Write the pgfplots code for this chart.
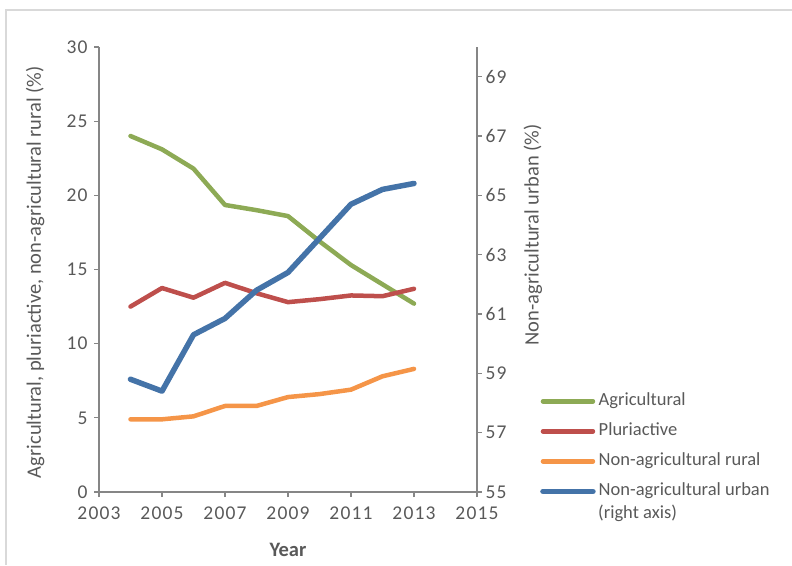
\documentclass[border=0pt]{standalone}
\usepackage{fontspec}
\setmainfont{Carlito}
\newfontfamily\tickfamily{Carlito}[LetterSpace=6]
\usepackage{pgfplots}
\pgfplotsset{compat=1.18}

\definecolor{cagri}{HTML}{8DAA55}
\definecolor{cpluri}{HTML}{BE4F4C}
\definecolor{crural}{HTML}{F59548}
\definecolor{curban}{HTML}{4473A8}
\definecolor{axisgrey}{HTML}{868686}
\definecolor{textgrey}{HTML}{595959}
\definecolor{framegrey}{HTML}{D9D9D9}

\newcommand{\tickfont}{\tickfamily\fontsize{19.5}{22}\selectfont}
\newcommand{\labelfont}{\fontsize{20.5}{23}\selectfont}
\newcommand{\legfont}{\fontsize{18.5}{21}\selectfont}

\begin{document}
\begin{tikzpicture}
\path[use as bounding box] (0,0) rectangle (792pt,565pt);
\draw[framegrey, line width=2pt] (792pt,555pt) -- (6pt,555pt) -- (6pt,0pt);

\pgfplotsset{
  commonstyle/.style={
    at={(99pt,73pt)}, anchor=south west,
    scale only axis, width=378pt, height=445pt,
    xmin=2003, xmax=2015,
    axis line style={axisgrey, line width=1.5pt, -},
    tick style={axisgrey, line width=1.2pt},
    major tick length=5pt, tick align=outside,
    tick label style={font=\tickfont, text=textgrey},
    label style={font=\labelfont, text=textgrey},
    /pgf/number format/assume math mode=true,
    /pgf/number format/1000 sep={},
    clip=false,
  },
  serie/.style={line width=4.5pt, line join=round, line cap=round},
}

% left axis: agricultural, pluriactive, non-agricultural rural
\begin{axis}[
  commonstyle,
  ymin=0, ymax=30,
  xtick={2003,2005,...,2015}, ytick={0,5,...,30},
  axis x line*=bottom, axis y line*=left,
  xticklabel style={yshift=-6pt},
  yticklabel style={xshift=-3pt},
  xlabel={\bfseries Year},
  xlabel style={at={(axis description cs:0.5,-0.13)}, anchor=center},
  ylabel={Agricultural, pluriactive, non-agricultural rural (\%)},
  ylabel style={at={(axis description cs:-0.169,0.494)}, anchor=center},
]
\addplot[serie, cagri] coordinates {
  (2004,24.0) (2005,23.1) (2006,21.8) (2007,19.35) (2008,19.0)
  (2009,18.6) (2010,16.9) (2011,15.3) (2012,14.0) (2013,12.7)};
\addplot[serie, cpluri] coordinates {
  (2004,12.5) (2005,13.75) (2006,13.1) (2007,14.1) (2008,13.4)
  (2009,12.8) (2010,13.0) (2011,13.25) (2012,13.2) (2013,13.7)};
\addplot[serie, crural] coordinates {
  (2004,4.9) (2005,4.9) (2006,5.1) (2007,5.8) (2008,5.8)
  (2009,6.4) (2010,6.6) (2011,6.9) (2012,7.8) (2013,8.3)};
\end{axis}

% right axis: non-agricultural urban
\begin{axis}[
  commonstyle,
  ymin=55, ymax=70,
  ytick={55,57,...,69},
  axis x line=none, axis y line*=right,
  ylabel={Non-agricultural urban (\%)},
  ylabel style={at={(axis description cs:1.148,0.578)}, anchor=center, rotate=0},
  legend style={at={(axis description cs:1.1667,0.222)}, anchor=north west,
    draw=none, fill=none, inner sep=0pt, row sep=14pt, column sep=3pt,
    nodes={font=\legfont, text=textgrey, inner sep=0pt,
      text height=12pt, text depth=4pt}},
  legend cell align=left,
  legend image code/.code={\draw[#1, line cap=round] (0pt,0pt) -- (50pt,0pt);},
]
\addlegendimage{serie, cagri}
\addlegendentry{Agricultural}
\addlegendimage{serie, cpluri}
\addlegendentry{Pluriactive}
\addlegendimage{serie, crural}
\addlegendentry{Non-agricultural rural}
\addplot[serie, curban, line width=5.5pt] coordinates {
  (2004,58.8) (2005,58.4) (2006,60.3) (2007,60.85) (2008,61.8)
  (2009,62.4) (2010,63.55) (2011,64.7) (2012,65.2) (2013,65.4)};
\addlegendentry{Non-agricultural urban}
\end{axis}

\node[anchor=west, inner sep=0pt, font=\legfont, text=textgrey,
  text height=12pt, text depth=4pt] at (598pt,51pt) {(right axis)};
\end{tikzpicture}
\end{document}
